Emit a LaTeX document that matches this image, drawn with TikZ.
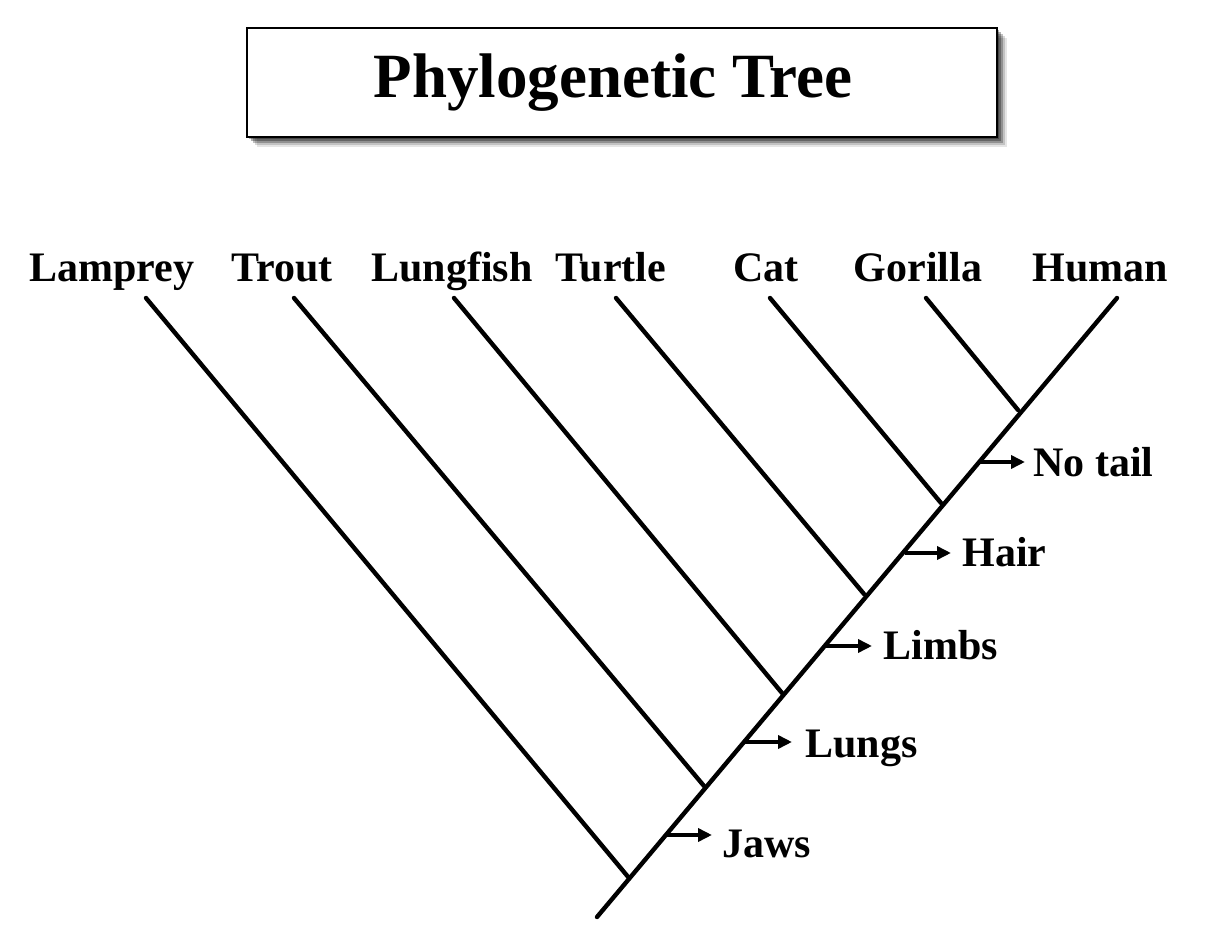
\documentclass[tikz,border=0pt]{standalone}
\usepackage{fontspec}
\setmainfont{Liberation Serif}
\usetikzlibrary{arrows.meta}
\begin{document}
\begin{tikzpicture}[x=0.5pt,y=-0.5pt,
  branch/.style={line width=2.2pt, line cap=round},
  species/.style={anchor=base, font=\bfseries\fontsize{21pt}{25pt}\selectfont, inner sep=0pt},
  trait/.style={anchor=base west, font=\bfseries\fontsize{21pt}{25pt}\selectfont, inner sep=0pt},
  traitarrow/.style={line width=1.8pt, -{Triangle[length=7pt,width=6.5pt]}},
  titlebox/.style={draw, line width=1pt, fill=white, minimum width=375pt, minimum height=54.5pt, inner sep=0pt, font=\bfseries\fontsize{31.5pt}{36pt}\selectfont}]
\useasboundingbox (0,0) rectangle (1215,945);
\fill[white] (0,0) rectangle (1215,945);
% soft shadow of title box
\foreach \d/\o in {2/0.3,4/0.3,6/0.25,8/0.15,10/0.1}{
  \fill[black, opacity=\o] (247+\d,28+\d) rectangle (997+\d,137+\d);
}
\node[titlebox] (title) at (622,82.5) {\raisebox{-2.5pt}{\hspace*{-9pt}Phylogenetic Tree}};

% species labels
\node[species] (lamprey) at (112,282) {Lamprey};
\node[species] (trout) at (282,282) {Trout};
\node[species] (lungfish) at (452,282) {Lungfish};
\node[species] (turtle) at (611,282) {Turtle};
\node[species] (cat) at (766,282) {Cat};
\node[species] (gorilla) at (918,282) {Gorilla};
\node[species] (human) at (1100,282) {Human};

% tree coordinates
\coordinate (root) at (597,917);
\coordinate (tHuman) at (1117,298);
\coordinate (tLamprey) at (146,298);
\coordinate (tTrout) at (294,298);
\coordinate (tLungfish) at (454,298);
\coordinate (tTurtle) at (616,298);
\coordinate (tCat) at (770,298);
\coordinate (tGorilla) at (926,298);
\coordinate (jLamprey) at (629,878);
\coordinate (jTrout) at (704,786);
\coordinate (jLungfish) at (782,693);
\coordinate (jTurtle) at (864,594);
\coordinate (jCat) at (941,503);
\coordinate (jGorilla) at (1018,410);

\draw[branch] (root) -- (tHuman);
\draw[branch] (tLamprey) -- (jLamprey);
\draw[branch] (tTrout) -- (jTrout);
\draw[branch] (tLungfish) -- (jLungfish);
\draw[branch] (tTurtle) -- (jTurtle);
\draw[branch] (tCat) -- (jCat);
\draw[branch] (tGorilla) -- (jGorilla);

% traits
\coordinate (aJaws) at (665,835);
\coordinate (aLungs) at (745,742);
\coordinate (aLimbs) at (825,646);
\coordinate (aHair) at (905,553);
\coordinate (aNotail) at (980,462);

\node[trait] (jaws) at (722,857) {Jaws};
\node[trait] (lungs) at (805,757) {Lungs};
\node[trait] (limbs) at (883,660) {Limbs};
\node[trait] (hair) at (962,567) {Hair};
\node[trait] (notail) at (1033,477) {No tail};

\coordinate (hJaws) at (712,835);
\coordinate (hLungs) at (792,742);
\coordinate (hLimbs) at (872,646);
\coordinate (hHair) at (951,553);
\coordinate (hNotail) at (1025,462);

\draw[traitarrow] (aJaws) -- (hJaws);
\draw[traitarrow] (aLungs) -- (hLungs);
\draw[traitarrow] (aLimbs) -- (hLimbs);
\draw[traitarrow] (aHair) -- (hHair);
\draw[traitarrow] (aNotail) -- (hNotail);
\end{tikzpicture}
\end{document}
